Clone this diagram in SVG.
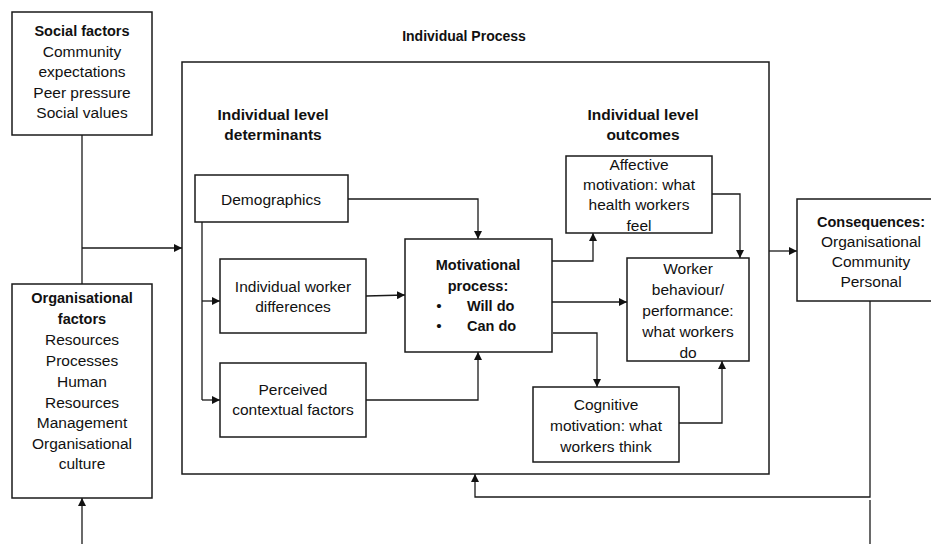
<svg xmlns="http://www.w3.org/2000/svg" width="931" height="544" viewBox="0 0 931 544">
<style>
.box{fill:#fff;stroke:#1a1a1a;stroke-width:1.5}
.c{fill:none;stroke:#1a1a1a;stroke-width:1.3}
text{font-family:"Liberation Sans",Arial,sans-serif;font-size:15.5px;fill:#111;text-anchor:middle}
.b{font-weight:bold;font-size:14.5px}
</style>
<defs>
<marker id="ah" markerUnits="userSpaceOnUse" markerWidth="9" markerHeight="8" refX="8" refY="4" orient="auto">
<path d="M0,0 L8,4 L0,8 z" fill="#111"/>
</marker>
</defs>
<rect x="0" y="0" width="931" height="544" fill="#fff"/>
<g id="individual-process">
<rect class="box" x="182" y="62" width="587" height="412"/>
<text class="b" x="464" y="41" style="font-size:14px">Individual Process</text>
<text class="b" x="273" y="120" style="font-size:15.5px">Individual level</text>
<text class="b" x="273" y="140" style="font-size:15.5px">determinants</text>
<text class="b" x="643" y="120" style="font-size:15.5px">Individual level</text>
<text class="b" x="643" y="140" style="font-size:15.5px">outcomes</text>
</g>
<g id="connectors">
<path class="c" d="M82,135 V284"/>
<path class="c" d="M82,248 H182" marker-end="url(#ah)"/>
<path class="c" d="M82,544 V498" marker-end="url(#ah)"/>
<path class="c" d="M348,199 H478 V239" marker-end="url(#ah)"/>
<path class="c" d="M202,222 V400"/>
<path class="c" d="M202,301 H220" marker-end="url(#ah)"/>
<path class="c" d="M202,400 H220" marker-end="url(#ah)"/>
<path class="c" d="M366,296 L405,295" marker-end="url(#ah)"/>
<path class="c" d="M366,400 H478 V352" marker-end="url(#ah)"/>
<path class="c" d="M552,261 H593 V233" marker-end="url(#ah)"/>
<path class="c" d="M552,302 H627" marker-end="url(#ah)"/>
<path class="c" d="M553,333 H597 V387" marker-end="url(#ah)"/>
<path class="c" d="M712,194 H740 V258" marker-end="url(#ah)"/>
<path class="c" d="M679,423 H722 V361" marker-end="url(#ah)"/>
<path class="c" d="M769,251 H797" marker-end="url(#ah)"/>
<path class="c" d="M870,301 V497 H475 V474" marker-end="url(#ah)"/>
<path class="c" d="M870,500 V544"/>
</g>
<g id="social-factors">
<rect class="box" x="12" y="12" width="140" height="123"/>
<text class="b" x="82" y="36">Social factors</text>
<text x="82" y="56.5">Community</text>
<text x="82" y="77">expectations</text>
<text x="82" y="97.5">Peer pressure</text>
<text x="82" y="118">Social values</text>
</g>
<g id="organisational-factors">
<rect class="box" x="12" y="284" width="140" height="214"/>
<text class="b" x="82" y="303">Organisational</text>
<text class="b" x="82" y="324">factors</text>
<text x="82" y="345">Resources</text>
<text x="82" y="366">Processes</text>
<text x="82" y="387">Human</text>
<text x="82" y="408">Resources</text>
<text x="82" y="428">Management</text>
<text x="82" y="449">Organisational</text>
<text x="82" y="469">culture</text>
</g>
<g id="demographics">
<rect class="box" x="195" y="175" width="153" height="47"/>
<text x="271" y="205">Demographics</text>
</g>
<g id="individual-worker-differences">
<rect class="box" x="220" y="259" width="146" height="74"/>
<text x="293" y="292">Individual worker</text>
<text x="293" y="312">differences</text>
</g>
<g id="perceived-contextual-factors">
<rect class="box" x="220" y="363" width="146" height="74"/>
<text x="293" y="395">Perceived</text>
<text x="293" y="415">contextual factors</text>
</g>
<g id="motivational-process">
<rect class="box" x="405" y="239" width="147" height="113"/>
<text class="b" x="478" y="270">Motivational</text>
<text class="b" x="478" y="291">process:</text>
<text x="439" y="311">•</text>
<text class="b" x="467" y="311" style="text-anchor:start">Will do</text>
<text x="439" y="331">•</text>
<text class="b" x="467" y="331" style="text-anchor:start">Can do</text>
</g>
<g id="affective-motivation">
<rect class="box" x="566" y="156" width="146" height="77"/>
<text x="639" y="170">Affective</text>
<text x="639" y="190">motivation: what</text>
<text x="639" y="210">health workers</text>
<text x="639" y="231">feel</text>
</g>
<g id="worker-behaviour">
<rect class="box" x="627" y="258" width="122" height="103"/>
<text x="688" y="274">Worker</text>
<text x="688" y="295">behaviour/</text>
<text x="688" y="316">performance:</text>
<text x="688" y="337">what workers</text>
<text x="688" y="358">do</text>
</g>
<g id="cognitive-motivation">
<rect class="box" x="533" y="387" width="146" height="75"/>
<text x="606" y="410">Cognitive</text>
<text x="606" y="431">motivation: what</text>
<text x="606" y="452">workers think</text>
</g>
<g id="consequences">
<rect class="box" x="797" y="199" width="140" height="102"/>
<text class="b" x="871" y="227">Consequences:</text>
<text x="871" y="247">Organisational</text>
<text x="871" y="267">Community</text>
<text x="871" y="287">Personal</text>
</g>
</svg>
